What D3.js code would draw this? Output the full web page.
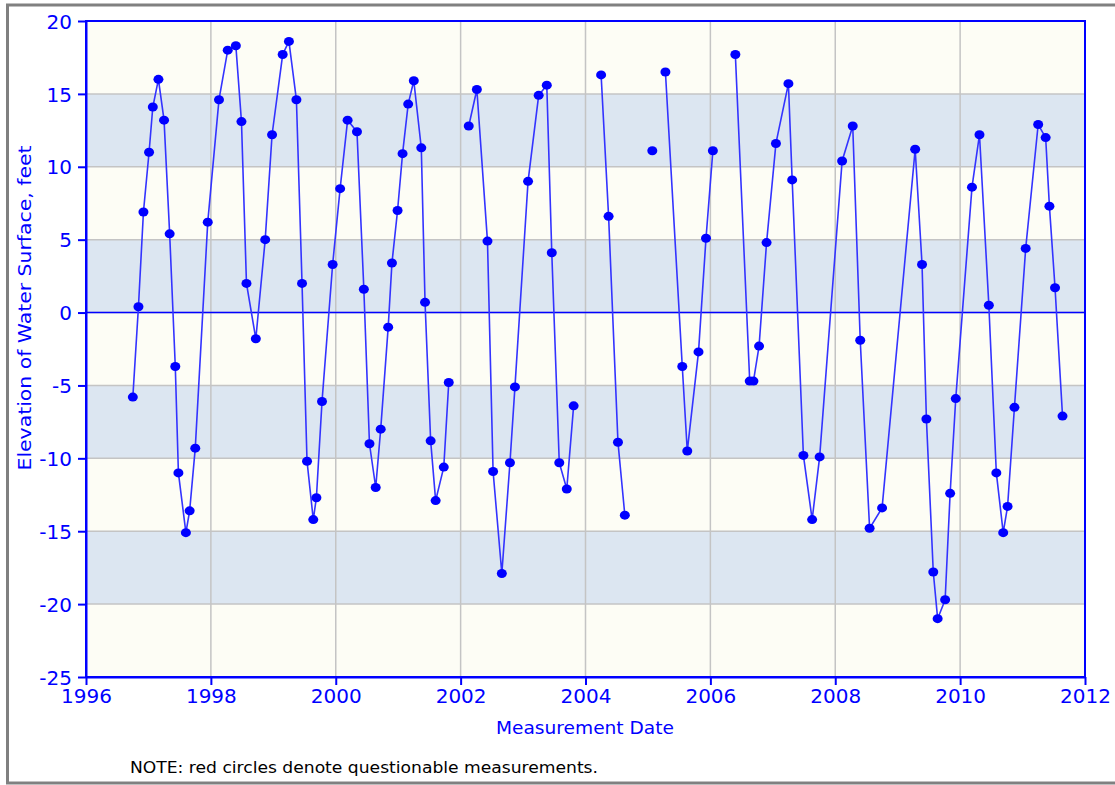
<!DOCTYPE html>
<html lang="en">
<head>
    <meta charset="UTF-8">
    <title>Elevation of Water Surface</title>
    <script src="https://d3js.org/d3.v7.min.js"></script>
    <style>
        body {
            margin: 0;
            background: #ffffff;
        }
        .tick text {
            font-family: "DejaVu Sans", Verdana, sans-serif;
        }
    </style>
</head>
<body>
    <svg id="chart" width="1115" height="785"></svg>

    <script>
        // measurement dates (decimal years) - null marks a break in the line
        const measureYears = [
            1996.75, 1996.84, 1996.92, 1997.01, 1997.07, 1997.16, 1997.25, 1997.34, 1997.43, 1997.48,
            1997.60, 1997.66, 1997.75, 1997.95, 1998.13, 1998.27, 1998.40, 1998.49, 1998.57, 1998.72,
            1998.87, 1998.98, 1999.15, 1999.25, 1999.37, 1999.46, 1999.54, 1999.64, 1999.69, 1999.78,
            1999.95, 2000.07, 2000.19, 2000.34, 2000.45, 2000.54, 2000.64, 2000.72, 2000.84, 2000.90,
            2000.99, 2001.07, 2001.16, 2001.25, 2001.37, 2001.43, 2001.52, 2001.60, 2001.73, 2001.81,
            null,
            2002.13, 2002.26, 2002.43, 2002.52, 2002.66, 2002.79, 2002.87, 2003.08, 2003.25, 2003.38,
            2003.46, 2003.58, 2003.70, 2003.81,
            null,
            2004.25, 2004.37, 2004.52, 2004.63,
            null,
            2005.07,
            null,
            2005.28, 2005.55, 2005.63, 2005.81, 2005.93, 2006.04,
            null,
            2006.40, 2006.63, 2006.69, 2006.78, 2006.90, 2007.05, 2007.25, 2007.31, 2007.49, 2007.63,
            2007.75, 2008.11, 2008.28, 2008.40, 2008.55, 2008.75, 2009.28, 2009.39, 2009.46, 2009.57,
            2009.64, 2009.76, 2009.84, 2009.93, 2010.19, 2010.31, 2010.46, 2010.58, 2010.69, 2010.76,
            2010.87, 2011.05, 2011.25, 2011.37, 2011.43, 2011.52, 2011.64
        ];

        // elevation of water surface, feet
        const waterLevels = [
            -5.8, 0.4, 6.9, 11.0, 14.1, 16.0, 13.2, 5.4, -3.7, -11.0,
            -15.1, -13.6, -9.3, 6.2, 14.6, 18.0, 18.3, 13.1, 2.0, -1.8,
            5.0, 12.2, 17.7, 18.6, 14.6, 2.0, -10.2, -14.2, -12.7, -6.1,
            3.3, 8.5, 13.2, 12.4, 1.6, -9.0, -12.0, -8.0, -1.0, 3.4,
            7.0, 10.9, 14.3, 15.9, 11.3, 0.7, -8.8, -12.9, -10.6, -4.8,
            null,
            12.8, 15.3, 4.9, -10.9, -17.9, -10.3, -5.1, 9.0, 14.9, 15.6,
            4.1, -10.3, -12.1, -6.4,
            null,
            16.3, 6.6, -8.9, -13.9,
            null,
            11.1,
            null,
            16.5, -3.7, -9.5, -2.7, 5.1, 11.1,
            null,
            17.7, -4.7, -4.7, -2.3, 4.8, 11.6, 15.7, 9.1, -9.8, -14.2,
            -9.9, 10.4, 12.8, -1.9, -14.8, -13.4, 11.2, 3.3, -7.3, -17.8,
            -21.0, -19.7, -12.4, -5.9, 8.6, 12.2, 0.5, -11.0, -15.1, -13.3,
            -6.5, 4.4, 12.9, 12.0, 7.3, 1.7, -7.1
        ];

        const yearTicks = [1996, 1998, 2000, 2002, 2004, 2006, 2008, 2010, 2012];
        const levelTicks = [20, 15, 10, 5, 0, -5, -10, -15, -20, -25];
        const yLabel = "Elevation of Water Surface, feet";
        const xLabel = "Measurement Date";
        const noteText = "NOTE: red circles denote questionable measurements.";

        const svg = d3.select("#chart");
        const margin = { top: 21, right: 30, bottom: 108, left: 86 };
        const width = +svg.attr("width");
        const height = +svg.attr("height");
        const plotW = width - margin.left - margin.right;
        const plotH = height - margin.top - margin.bottom;

        const blue = "#0000ff";
        const font = "'DejaVu Sans', Verdana, sans-serif";

        // outer gray frame
        svg.append("rect")
            .attr("x", 7.5).attr("y", 5)
            .attr("width", width + 10).attr("height", height - 7)
            .attr("fill", "none")
            .attr("stroke", "#808080")
            .attr("stroke-width", 3);

        const x = d3.scaleLinear().domain([1996, 2012]).range([0, plotW]);
        const y = d3.scaleLinear().domain([-25, 20]).range([plotH, 0]);

        const g = svg.append("g")
            .attr("transform", "translate(" + margin.left + "," + margin.top + ")");

        // alternating bands
        const bands = d3.pairs(levelTicks.slice().reverse());
        g.selectAll("rect.band").data(bands)
            .join("rect")
            .attr("class", "band")
            .attr("x", 0)
            .attr("width", plotW)
            .attr("y", d => y(d[1]))
            .attr("height", d => y(d[0]) - y(d[1]))
            .attr("fill", (d, i) => i % 2 === 0 ? "#fdfdf5" : "#dce6f1");

        // grid
        g.selectAll("line.hgrid").data(levelTicks)
            .join("line")
            .attr("x1", 0).attr("x2", plotW)
            .attr("y1", d => y(d)).attr("y2", d => y(d))
            .attr("stroke", "#c4c4c4")
            .attr("stroke-width", 1.5);

        g.selectAll("line.vgrid").data(yearTicks)
            .join("line")
            .attr("y1", 0).attr("y2", plotH)
            .attr("x1", d => x(d)).attr("x2", d => x(d))
            .attr("stroke", "#c4c4c4")
            .attr("stroke-width", 1.5);

        // zero line
        g.append("line")
            .attr("x1", 0).attr("x2", plotW)
            .attr("y1", y(0)).attr("y2", y(0))
            .attr("stroke", blue)
            .attr("stroke-width", 1.5);

        // plot frame
        g.append("rect")
            .attr("width", plotW).attr("height", plotH)
            .attr("fill", "none")
            .attr("stroke", blue)
            .attr("stroke-width", 2);

        // axes (plain hyphen for negatives, like the original)
        const fmt = d => String(d);
        const xAxis = g.append("g")
            .attr("transform", "translate(0," + plotH + ")")
            .call(d3.axisBottom(x).tickValues(yearTicks).tickFormat(fmt).tickSizeInner(8).tickSizeOuter(0).tickPadding(4));
        const yAxis = g.append("g")
            .call(d3.axisLeft(y).tickValues(levelTicks).tickFormat(fmt).tickSizeInner(8).tickSizeOuter(0).tickPadding(6));

        [xAxis, yAxis].forEach(a => {
            a.select(".domain").attr("stroke", blue).attr("stroke-width", 2);
            a.selectAll(".tick line").attr("stroke", blue).attr("stroke-width", 2);
            a.selectAll(".tick text")
                .attr("fill", blue)
                .style("font-size", "20px");
        });
        yAxis.selectAll(".tick text").attr("dy", "0.36em");

        // points and line
        const pts = measureYears.map((d, i) => ({ t: d, v: waterLevels[i] }));

        const line = d3.line()
            .defined(d => d.t !== null && d.v !== null)
            .x(d => x(d.t))
            .y(d => y(d.v));

        g.append("path")
            .datum(pts)
            .attr("d", line)
            .attr("fill", "none")
            .attr("stroke", "#3333ff")
            .attr("stroke-width", 1.6);

        g.selectAll("ellipse.pt").data(pts.filter(d => d.t !== null))
            .join("ellipse")
            .attr("class", "pt")
            .attr("cx", d => x(d.t))
            .attr("cy", d => y(d.v))
            .attr("rx", 5)
            .attr("ry", 4.5)
            .attr("fill", blue);

        // labels
        svg.append("text")
            .attr("x", 585)
            .attr("y", 734)
            .attr("text-anchor", "middle")
            .attr("fill", blue)
            .attr("textLength", 178)
            .attr("lengthAdjust", "spacingAndGlyphs")
            .style("font-family", font)
            .style("font-size", "18px")
            .text(xLabel);

        svg.append("text")
            .attr("transform", "translate(31,308) rotate(-90)")
            .attr("text-anchor", "middle")
            .attr("fill", blue)
            .attr("textLength", 325)
            .attr("lengthAdjust", "spacingAndGlyphs")
            .style("font-family", font)
            .style("font-size", "18px")
            .text(yLabel);

        svg.append("text")
            .attr("x", 130)
            .attr("y", 773)
            .attr("fill", "#000000")
            .attr("textLength", 468)
            .attr("lengthAdjust", "spacingAndGlyphs")
            .style("font-family", font)
            .style("font-size", "16px")
            .text(noteText);
    </script>
</body>
</html>
